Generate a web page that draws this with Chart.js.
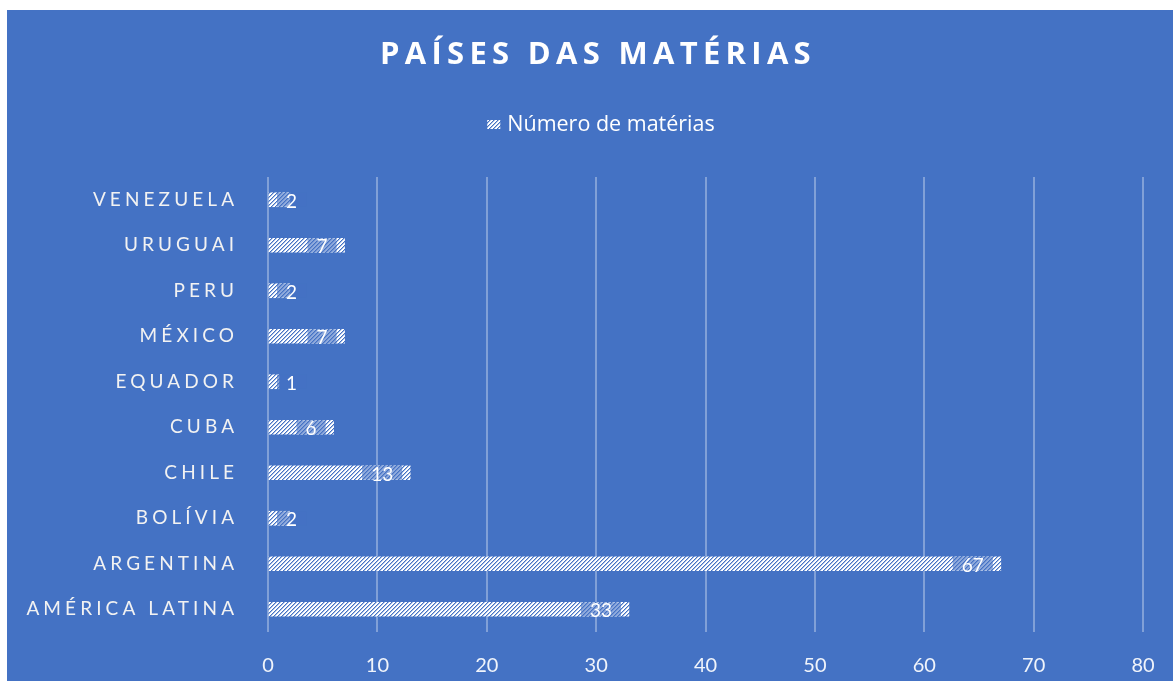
<!DOCTYPE html>
<html lang="pt">
<head>
<meta charset="UTF-8">
<title>Países das matérias</title>
<script src="https://cdn.jsdelivr.net/npm/chart.js"></script>
<style>
  body { margin: 0; background: #fff; overflow: hidden; }
  .quadro { position: absolute; left: 7px; top: 10px; width: 1166px; height: 671px; background: #4472c4; }
  canvas { display: block; }
</style>
</head>
<body>
<div class="quadro"><canvas id="grafico"></canvas></div>
<script>
const titulo = 'PAÍSES DAS MATÉRIAS';
const serieNome = 'Número de matérias';
// categorias de cima para baixo
const paises = ['VENEZUELA', 'URUGUAI', 'PERU', 'MÉXICO', 'EQUADOR', 'CUBA', 'CHILE', 'BOLÍVIA', 'ARGENTINA', 'AMÉRICA LATINA'];
const materias = [2, 7, 2, 7, 1, 6, 13, 2, 67, 33];
const eixoMin = 0;
const eixoMax = 80;
const eixoPasso = 10;

const AZUL = '#4472c4';
const FONTE = 'Lato, "Open Sans", sans-serif';
const FONTE2 = '"Open Sans", Lato, sans-serif';

// hachura diagonal branca/azul
function hachura() {
  const c = document.createElement('canvas');
  c.width = 4; c.height = 4;
  const g = c.getContext('2d');
  g.fillStyle = '#fff';
  g.fillRect(0, 0, 4, 4);
  for (let x = 0; x < 4; x++) {
    for (let y = 0; y < 4; y++) {
      const k = (x + y) % 4;
      if (k === 0) { g.fillStyle = AZUL; g.fillRect(x, y, 1, 1); }
      if (k === 1) { g.fillStyle = 'rgba(68,114,196,0.45)'; g.fillRect(x, y, 1, 1); }
    }
  }
  return g.createPattern(c, 'repeat');
}
const padrao = hachura();

const textos = {
  id: 'textos',
  afterDatasetsDraw(chart) {
    const ctx = chart.ctx;
    const meta = chart.getDatasetMeta(0);
    const x0 = chart.scales.x.getPixelForValue(0);
    ctx.save();
    ctx.font = '19px ' + FONTE;
    ctx.textAlign = 'center';
    ctx.textBaseline = 'middle';
    meta.data.forEach((bar, i) => {
      const txt = String(materias[i]);
      const w = ctx.measureText(txt).width + 18;
      let dir = bar.x - 8;
      let esq = dir - w;
      if (esq < x0 + 9) { esq = x0 + 9; dir = esq + w; }
      ctx.fillStyle = 'rgba(68,114,196,0.6)';
      ctx.fillRect(esq, bar.y - 7, w, 14);
      ctx.fillStyle = '#fff';
      ctx.fillText(txt, (esq + dir) / 2, bar.y + 2);
    });
    ctx.restore();
  },
  afterDraw(chart) {
    const ctx = chart.ctx;
    const ys = chart.scales.y;
    ctx.save();
    ctx.fillStyle = '#fff';
    ctx.textBaseline = 'middle';

    // título
    ctx.font = 'bold 31px ' + FONTE2;
    ctx.letterSpacing = '5.3px';
    ctx.textAlign = 'center';
    ctx.fillText(titulo, 591, 45);

    // legenda
    ctx.letterSpacing = '0px';
    ctx.font = '21.5px ' + FONTE2;
    const tw = ctx.measureText(serieNome).width;
    const lx = 594 - (13 + 7 + tw) / 2;
    ctx.fillStyle = padrao;
    ctx.fillRect(lx, 110, 13, 9);
    ctx.fillStyle = '#fff';
    ctx.textAlign = 'left';
    ctx.fillText(serieNome, lx + 20, 115);

    // rótulos das categorias
    ctx.font = '19px ' + FONTE;
    ctx.letterSpacing = '4.1px';
    ctx.textAlign = 'right';
    ctx.fillStyle = '#f2f2f2';
    paises.forEach((p, i) => {
      ctx.fillText(p, 227 + 4.1, ys.getPixelForValue(i));
    });
    ctx.restore();
  }
};

new Chart(document.getElementById('grafico'), {
  type: 'bar',
  data: {
    labels: paises,
    datasets: [{
      label: serieNome,
      data: materias,
      backgroundColor: padrao,
      borderWidth: 0,
      barThickness: 14
    }]
  },
  options: {
    indexAxis: 'y',
    responsive: true,
    maintainAspectRatio: false,
    animation: false,
    layout: { padding: { top: 167, left: 0, right: 30, bottom: 0 } },
    plugins: {
      legend: { display: false },
      title: { display: false },
      tooltip: { enabled: false }
    },
    scales: {
      x: {
        min: eixoMin,
        max: eixoMax,
        ticks: {
          stepSize: eixoPasso,
          color: 'rgba(255,255,255,0.92)',
          font: { family: FONTE, size: 20 },
          padding: 22
        },
        grid: { color: 'rgba(255,255,255,0.33)', lineWidth: 2, drawTicks: false },
        border: { display: false },
        afterFit: s => { s.height = 49; s.paddingLeft = 0; s.paddingRight = 0; }
      },
      y: {
        ticks: { display: false },
        grid: { display: false },
        border: { display: false },
        afterFit: s => { s.width = 261; }
      }
    }
  },
  plugins: [textos]
});
</script>
</body>
</html>
